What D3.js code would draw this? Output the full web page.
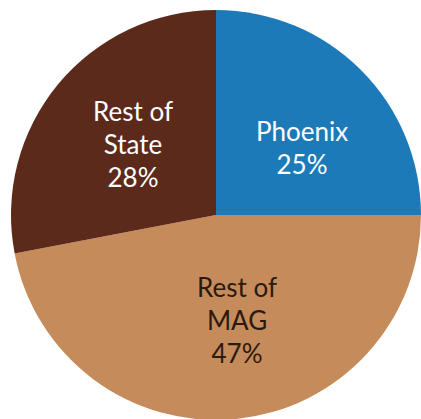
<!DOCTYPE html>
<html>
<head>
<meta charset="utf-8">
<script src="https://cdn.jsdelivr.net/npm/d3@7"></script>
<style>
  body { margin: 0; background: #fff; }
  text { font-family: Lato, "Open Sans", sans-serif; }
</style>
</head>
<body>
<div id="chart"></div>
<script>
var width = 421,
    height = 419;

// Data
var names = ["Phoenix", "Rest of MAG", "Rest of State"];
var shares = [25, 47, 28];
var labels = [["Phoenix", "25%"], ["Rest of", "MAG", "47%"], ["Rest of", "State", "28%"]];
var colors = ["#1c7ab8", "#c68b5a", "#5c2a1b"];
var textColors = ["#ffffff", "#2a1a10", "#ffffff"];

var data = names.map(function(n, i) {
  return { name: n, value: shares[i], lines: labels[i] };
});

var cx = 216, cy = 215, r = 205;

var svg = d3.select("#chart").append("svg")
    .attr("width", width)
    .attr("height", height);

var g = svg.append("g")
    .attr("transform", "translate(" + cx + "," + cy + ")");

var color = d3.scaleOrdinal().domain(names).range(colors);
var textColor = d3.scaleOrdinal().domain(names).range(textColors);

var pie = d3.pie()
    .sort(null)
    .value(function(d) { return d.value; });

var arc = d3.arc().innerRadius(0).outerRadius(r);

var arcs = pie(data);

g.selectAll("path")
    .data(arcs)
  .enter().append("path")
    .attr("d", arc)
    .style("fill", function(d) { return color(d.data.name); });

// label centres, relative to the pie centre
var labelPos = { "Phoenix": [86, -67], "Rest of MAG": [21, 106], "Rest of State": [-83, -70] };

var lineH = 33;

var label = g.selectAll(".label")
    .data(arcs)
  .enter().append("text")
    .attr("class", "label")
    .attr("text-anchor", "middle")
    .style("font-size", "26px")
    .style("fill", function(d) { return textColor(d.data.name); })
    .attr("transform", function(d) {
      var p = labelPos[d.data.name];
      return "translate(" + p[0] + "," + p[1] + ")";
    });

label.selectAll("tspan")
    .data(function(d) { return d.data.lines.map(function(l, i) { return { t: l, i: i, n: d.data.lines.length }; }); })
  .enter().append("tspan")
    .attr("x", 0)
    .attr("y", function(d) { return (d.i - (d.n - 1) / 2) * lineH + 9; })
    .text(function(d) { return d.t; });
</script>
</body>
</html>
